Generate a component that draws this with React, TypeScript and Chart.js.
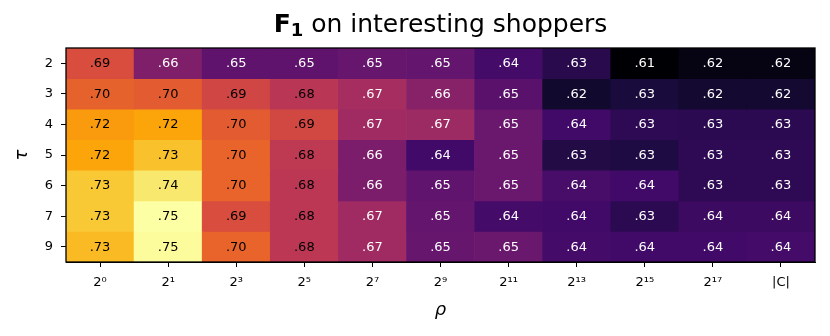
import React, { useEffect, useRef } from "react";
import { Chart, registerables } from "chart.js";

Chart.register(...registerables);

// ---- data ----
const RHO_LABELS = ["2⁰", "2¹", "2³", "2⁵", "2⁷", "2⁹", "2¹¹", "2¹³", "2¹⁵", "2¹⁷", "|C|"];
const TAU_LABELS = ["2", "3", "4", "5", "6", "7", "9"];

const F1_TAU2 = [0.694, 0.661, 0.650, 0.650, 0.653, 0.652, 0.641, 0.632, 0.612, 0.616, 0.616];
const F1_TAU3 = [0.702, 0.700, 0.690, 0.681, 0.674, 0.664, 0.648, 0.623, 0.627, 0.624, 0.624];
const F1_TAU4 = [0.721, 0.724, 0.700, 0.691, 0.672, 0.671, 0.654, 0.640, 0.634, 0.633, 0.633];
const F1_TAU5 = [0.724, 0.732, 0.703, 0.683, 0.660, 0.640, 0.654, 0.630, 0.629, 0.634, 0.634];
const F1_TAU6 = [0.734, 0.744, 0.703, 0.682, 0.660, 0.651, 0.654, 0.642, 0.640, 0.634, 0.634];
const F1_TAU7 = [0.734, 0.752, 0.694, 0.682, 0.672, 0.652, 0.641, 0.640, 0.633, 0.638, 0.638];
const F1_TAU9 = [0.730, 0.751, 0.703, 0.682, 0.672, 0.653, 0.654, 0.641, 0.640, 0.640, 0.641];

const ROWS = [F1_TAU2, F1_TAU3, F1_TAU4, F1_TAU5, F1_TAU6, F1_TAU7, F1_TAU9];

const TITLE_MAIN = "F";
const TITLE_SUB = "1";
const TITLE_REST = " on interesting shoppers";
const X_TITLE = "ρ";
const Y_TITLE = "τ";

// ---- colour map (inferno) ----
const INFERNO = [
  [0, 0, 4], [22, 11, 57], [66, 10, 104], [106, 23, 110], [147, 38, 103],
  [188, 55, 84], [221, 81, 58], [243, 120, 25], [252, 165, 10], [246, 215, 70], [252, 255, 164],
];
function inferno(t: number) {
  const tt = Math.min(1, Math.max(0, t));
  const p = tt * 10;
  const i = Math.min(9, Math.floor(p));
  const f = p - i;
  const a = INFERNO[i], b = INFERNO[i + 1];
  const c = a.map((v, k) => Math.round(v + (b[k] - v) * f));
  return `rgb(${c[0]},${c[1]},${c[2]})`;
}

const ALL = ROWS.flat();
const VMIN = Math.min(...ALL);
const VMAX = Math.max(...ALL);
const norm = (v: number) => (v - VMIN) / (VMAX - VMIN);
const fmt = (v: number) => v.toFixed(2).replace(/^0/, "");

const FAMILY = '"DejaVu Sans", sans-serif';

const cellTextPlugin = {
  id: "cellText",
  afterDatasetsDraw(chart: any) {
    const ctx = chart.ctx;
    ctx.save();
    ctx.font = `13px ${FAMILY}`;
    ctx.textAlign = "center";
    ctx.textBaseline = "middle";
    chart.data.datasets.forEach((_ds: any, r: number) => {
      const meta = chart.getDatasetMeta(r);
      meta.data.forEach((el: any, c: number) => {
        const v = ROWS[r][c];
        const { x, y, base } = el.getProps(["x", "y", "base"], true);
        ctx.fillStyle = norm(v) > 0.47 ? "#000" : "#fff";
        ctx.fillText(fmt(v), x, (y + base) / 2 + 0.5);
      });
    });
    const a = chart.chartArea;
    ctx.strokeStyle = "#000";
    ctx.lineWidth = 1.3;
    ctx.strokeRect(a.left, a.top, a.right - a.left, a.bottom - a.top);
    ctx.restore();
  },
};

const titlePlugin = {
  id: "mixedTitle",
  afterDraw(chart: any) {
    const ctx = chart.ctx;
    const a = chart.chartArea;
    const fs = 25;
    const fBold = `bold ${fs}px ${FAMILY}`;
    const fSub = `bold ${Math.round(fs * 0.72)}px ${FAMILY}`;
    const fNorm = `${fs}px ${FAMILY}`;
    ctx.save();
    ctx.font = fBold;
    const w1 = ctx.measureText(TITLE_MAIN).width;
    ctx.font = fSub;
    const w2 = ctx.measureText(TITLE_SUB).width;
    ctx.font = fNorm;
    const w3 = ctx.measureText(TITLE_REST).width;
    let x = (a.left + a.right) / 2 - (w1 + w2 + w3) / 2;
    const yb = 31.5;
    ctx.fillStyle = "#000";
    ctx.textAlign = "left";
    ctx.textBaseline = "alphabetic";
    ctx.font = fBold;
    ctx.fillText(TITLE_MAIN, x, yb);
    x += w1;
    ctx.font = fSub;
    ctx.fillText(TITLE_SUB, x, yb + 4.5);
    x += w2;
    ctx.font = fNorm;
    ctx.fillText(TITLE_REST, x, yb);
    ctx.restore();
  },
};

export default function App() {
  const ref = useRef<HTMLCanvasElement | null>(null);
  useEffect(() => {
    document.body.style.margin = "0";
    const canvas = ref.current;
    if (!canvas) return;
    const chart = new Chart(canvas, {
      type: "bar",
      data: {
        labels: RHO_LABELS,
        datasets: ROWS.map((row, r) => ({
          label: "τ=" + TAU_LABELS[r],
          data: row.map(() => 1),
          backgroundColor: row.map((v) => inferno(norm(v))),
          borderWidth: 0,
          barPercentage: 1,
          categoryPercentage: 1,
          stack: "grid",
        })),
      },
      options: {
        animation: false,
        responsive: false,
        maintainAspectRatio: false,
        devicePixelRatio: 1,
        layout: { padding: { top: 48, right: 15, left: 0, bottom: 0 } },
        plugins: {
          legend: { display: false },
          tooltip: { enabled: false },
          title: { display: false },
        },
        scales: {
          x: {
            type: "category",
            stacked: true,
            offset: true,
            grid: {
              display: true,
              drawOnChartArea: false,
              offset: false,
              tickLength: 5,
              color: "#000",
              lineWidth: 1,
            },
            border: { display: true, color: "#000", width: 1 },
            ticks: {
              color: "#000",
              font: { family: FAMILY, size: 13 },
              padding: 8,
              maxRotation: 0,
              autoSkip: false,
            },
            title: {
              display: true,
              text: X_TITLE,
              color: "#000",
              font: { family: FAMILY, size: 18, style: "italic" },
              padding: { top: 0, bottom: 15 },
            },
            afterFit: (s: any) => {
              s.height = 74;
            },
          },
          y: {
            type: "linear",
            stacked: true,
            min: 0,
            max: 7,
            reverse: true,
            afterBuildTicks: (s: any) => {
              s.ticks = TAU_LABELS.map((_, i) => ({ value: i + 0.5 }));
            },
            grid: {
              display: true,
              drawOnChartArea: false,
              tickLength: 5,
              color: "#000",
              lineWidth: 1,
            },
            border: { display: true, color: "#000", width: 1 },
            ticks: {
              color: "#000",
              font: { family: FAMILY, size: 13 },
              padding: 8,
              callback: (v: any) => TAU_LABELS[Math.floor(Number(v))],
            },
            title: {
              display: true,
              text: Y_TITLE,
              color: "#000",
              font: { family: FAMILY, size: 18, style: "italic" },
              padding: { top: 12, bottom: 0 },
            },
            afterFit: (s: any) => {
              s.width = 66;
            },
          },
        },
      },
      plugins: [cellTextPlugin, titlePlugin],
    } as any);
    return () => chart.destroy();
  }, []);
  return (
    <div style={{ width: 830, height: 336 }}>
      <canvas ref={ref} width={830} height={336} style={{ display: "block" }} />
    </div>
  );
}
